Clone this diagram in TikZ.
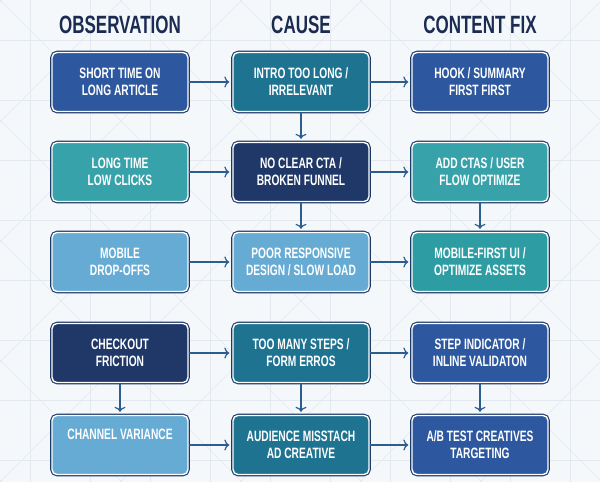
\documentclass[tikz,border=0pt]{standalone}
\usepackage{fontspec}
\setmainfont{Liberation Sans}[FakeStretch=0.68]
\usepackage{tikz}
\usetikzlibrary{arrows.meta}
\definecolor{bgcol}{HTML}{F5F8FB}
\definecolor{gridcol}{HTML}{E3E9EF}
\definecolor{headcol}{HTML}{1B2B52}
\definecolor{edgecol}{HTML}{1C3A66}
\definecolor{arrcol}{HTML}{2C5D8F}
\definecolor{royal}{HTML}{2D579E}
\definecolor{petrol}{HTML}{1E7391}
\definecolor{navy}{HTML}{1F3868}
\definecolor{teal}{HTML}{37A2A9}
\definecolor{sky}{HTML}{66ABD4}
\definecolor{sea}{HTML}{2E9DA3}
\tikzset{
  box/.style={rounded corners=5pt, minimum width=136pt, minimum height=59pt,
    text=white, align=center, font=\bfseries\fontsize{15}{17}\selectfont,
    draw=white, line width=1.4pt, preaction={draw=edgecol, line width=3.6pt}},
  head/.style={text=headcol, font=\bfseries\fontsize{25}{27}\selectfont},
  flow/.style={draw=arrcol, line width=1.2pt, -{To[length=5pt,width=11pt]}, shorten >=3pt}
}
\begin{document}
\begin{tikzpicture}[x=1pt,y=-1pt]
\fill[bgcol] (0,0) rectangle (600,482);
\useasboundingbox (0,0) rectangle (600,482);
%\draw [help lines] (0,0) grid (600,482);
\foreach \gx in {30,90,...,570} \draw[gridcol,line width=0.6pt] (\gx,0) -- (\gx,482);
\foreach \gy in {40,100,...,460} \draw[gridcol,line width=0.6pt] (0,\gy) -- (600,\gy);
\foreach \gx in {-480,-360,...,600} {
  \draw[gridcol,line width=0.6pt] (\gx,0) -- (\gx+482,482);
  \draw[gridcol,line width=0.6pt] (\gx+482,0) -- (\gx,482);
}
\node[head] (hobs) at (120,25) {OBSERVATION};
\node[head] (hcause) at (301,25) {CAUSE};
\node[head] (hfix) at (480,25) {CONTENT FIX};
\node[box, fill=royal] (obs1) at (120,82) {SHORT TIME ON\\LONG ARTICLE};
\node[box, fill=petrol] (cause1) at (301,82) {INTRO TOO LONG /\\IRRELEVANT};
\node[box, fill=royal] (fix1) at (480,82) {HOOK / SUMMARY\\FIRST FIRST};
\node[box, fill=teal] (obs2) at (120,172) {LONG TIME\\LOW CLICKS};
\node[box, fill=navy] (cause2) at (301,172) {NO CLEAR CTA /\\BROKEN FUNNEL};
\node[box, fill=teal] (fix2) at (480,172) {ADD CTAS / USER\\FLOW OPTIMIZE};
\node[box, fill=sky] (obs3) at (120,262) {MOBILE\\DROP-OFFS};
\node[box, fill=sky] (cause3) at (301,262) {POOR RESPONSIVE\\DESIGN / SLOW LOAD};
\node[box, fill=sea] (fix3) at (480,262) {MOBILE-FIRST UI /\\OPTIMIZE ASSETS};
\node[box, fill=navy] (obs4) at (120,353) {CHECKOUT\\FRICTION};
\node[box, fill=petrol] (cause4) at (301,353) {TOO MANY STEPS /\\FORM ERROS};
\node[box, fill=royal] (fix4) at (480,353) {STEP INDICATOR /\\INLINE VALIDATON};
\node[box, fill=sky] (obs5) at (120,445) {CHANNEL VARIANCE\\\strut};
\node[box, fill=petrol] (cause5) at (301,445) {AUDIENCE MISSTACH\\AD CREATIVE};
\node[box, fill=royal] (fix5) at (480,445) {A/B TEST CREATIVES\\TARGETING};
\foreach \r in {1,...,5} {
  \draw[flow] (obs\r) -- (cause\r);
  \draw[flow] (cause\r) -- (fix\r);
}
\draw[flow] (cause1) -- (cause2);
\draw[flow] (cause2) -- (cause3);
\draw[flow] (fix2) -- (fix3);
\draw[flow] (obs4) -- (obs5);
\draw[flow] (cause4) -- (cause5);
\draw[flow] (fix4) -- (fix5);
\end{tikzpicture}
\end{document}
